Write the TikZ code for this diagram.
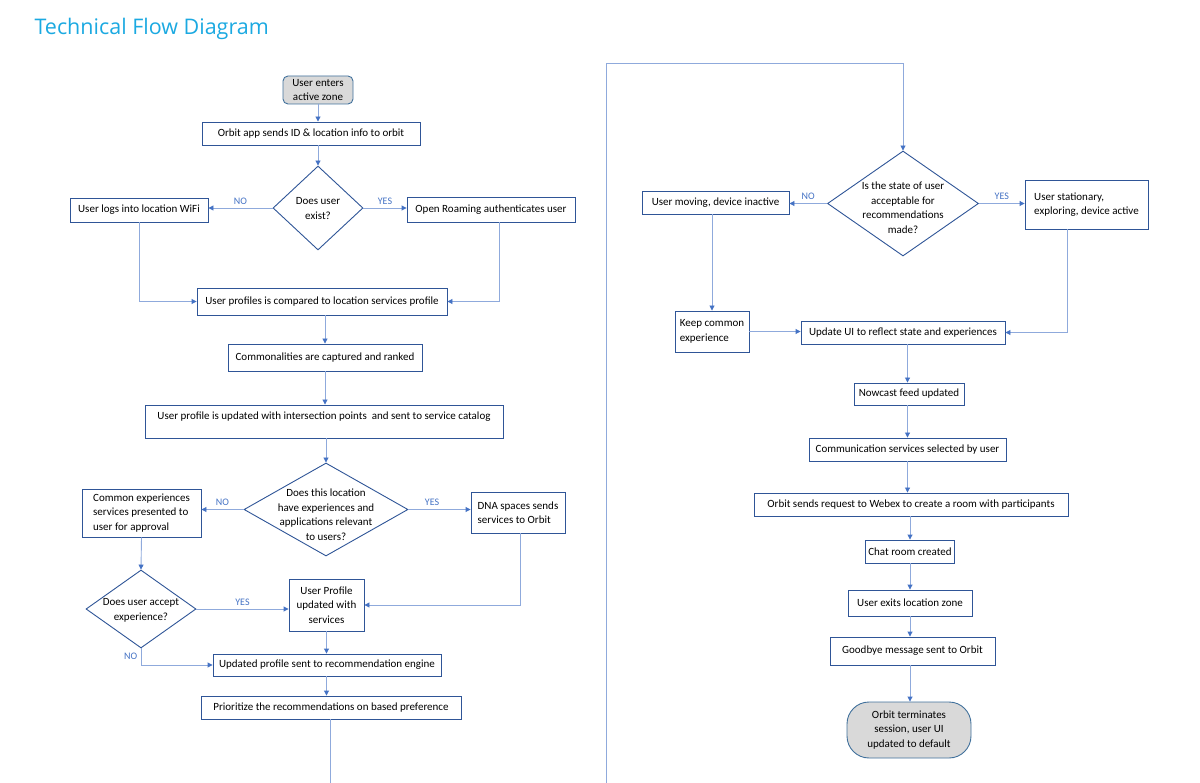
\documentclass[tikz,border=0pt]{standalone}
\usepackage{fontspec}
\setmainfont{Carlito}
\newfontfamily\titlefont{Open Sans}
\usepackage{tikz}
\usetikzlibrary{shapes.geometric}
\usetikzlibrary{arrows.meta}

\definecolor{boxblue}{HTML}{2F5597}
\definecolor{lineblue}{HTML}{8FAADC}
\definecolor{tipblue}{HTML}{4472C4}
\definecolor{titleblue}{HTML}{1BA9E1}
\definecolor{termgray}{HTML}{D9D9D9}
\definecolor{termedge}{HTML}{41719C}

\newcommand{\asklines}[2][4pt]{\smash{\makebox[0pt]{\raisebox{-#1}{\begin{tabular}{@{}c@{}}#2\end{tabular}}}}}

\begin{document}
\begin{tikzpicture}[x=1pt, y=-1pt,
		every node/.style={font=\fontsize{11}{14.5}\selectfont},
		box/.style={shape=rectangle, draw=boxblue, fill=white, line width=0.9pt, minimum height=23pt, inner sep=3pt},
		term/.style={shape=rectangle, draw=termedge, fill=termgray, line width=0.9pt, inner sep=0pt, align=center},
		decision/.style={shape=diamond, draw=boxblue, fill=white, line width=0.9pt, inner sep=0pt},
		flow/.style={draw=lineblue, line width=0.9pt, -{Triangle[length=5pt, width=5pt, color=tipblue]}},
		answer/.style={text=tipblue, font=\fontsize{10}{12}\selectfont},
]
\useasboundingbox (0,0) rectangle (1200,783);

\node[anchor=west, text=titleblue, font=\titlefont\fontsize{21.5}{24}\selectfont] (title) at (31,29) {Technical Flow Diagram};

% left column
\node[term, rounded corners=5pt, minimum width=70pt, minimum height=28pt] (start) at (318,90) {User enters\\active zone};
\node[box, minimum width=218pt] (send) at (311,133.5) {Orbit app sends ID \& location info to orbit};
\node[decision, minimum width=90pt, minimum height=84pt] (askuser) at (318,208) {\asklines{Does user\\exist?}};
\node[box, minimum width=138pt, minimum height=24pt] (wifi) at (139,210) {User logs into location WiFi};
\node[box, minimum width=168pt, minimum height=25pt] (roam) at (491,209.5) {Open Roaming authenticates user};
\node[box, minimum width=250pt, minimum height=27pt] (compare) at (322,301.5) {User profiles is compared to location services profile};
\node[box, minimum width=194pt, minimum height=27pt] (common) at (325,357.5) {Commonalities are captured and ranked};
\node[box, minimum width=358pt, text height=11pt, text depth=14pt, inner sep=4pt] (catalog) at (324,421.5) {User profile is updated with intersection points\ \ and sent to service catalog};
\node[decision, minimum width=164pt, minimum height=93pt] (asklocation) at (326,509.5) {\asklines[9pt]{Does this location\\have experiences and\\applications relevant\\to users?}};
\node[box, minimum width=119pt, minimum height=48pt, align=left] (approval) at (141.5,513) {Common experiences\\services presented to\\user for approval};
\node[box, minimum width=94pt, minimum height=41pt, align=left] (dna) at (518,512.5) {DNA spaces sends\\services to Orbit};
\node[decision, minimum width=110pt, minimum height=78pt] (accept) at (141,609) {\asklines{Does user accept\\experience?}};
\node[box, minimum width=75pt, minimum height=52pt, align=center] (services) at (326.5,605) {User Profile\\updated with\\services};
\node[box, minimum width=228pt, minimum height=22pt] (engine) at (327,665) {Updated profile sent to recommendation engine};
\node[box, minimum width=260pt] (prioritize) at (331,707.5) {Prioritize the recommendations on based preference};

% right column
\node[decision, minimum width=151pt, minimum height=105pt] (askstate) at (903,203.5) {\asklines[8pt]{Is the state of user\\acceptable for\\recommendations\\made?}};
\node[box, minimum width=147pt] (moving) at (715.5,202.5) {User moving, device inactive};
\node[box, minimum width=123pt, minimum height=49pt, align=left] (stationary) at (1086.5,204.5) {User stationary,\\exploring, device active};
\node[box, minimum width=74pt, minimum height=41pt, align=left] (keep) at (712,331.5) {Keep common\\experience};
\node[box, minimum width=204pt] (reflect) at (903,332.5) {Update UI to reflect state and experiences};
\node[box, minimum width=110pt, minimum height=22pt] (nowcast) at (909,394) {Nowcast feed updated};
\node[box, minimum width=197pt] (selected) at (907.5,449.5) {Communication services selected by user};
\node[box, minimum width=314pt] (webex) at (911,504.5) {Orbit sends request to Webex to create a room with participants};
\node[box, minimum width=88pt] (chat) at (910,551.5) {Chat room created};
\node[box, minimum width=124pt, minimum height=26pt] (exits) at (910,603) {User exits location zone};
\node[box, minimum width=165pt, minimum height=28pt] (goodbye) at (912.5,651) {Goodbye message sent to Orbit};
\node[term, rounded corners=22pt, minimum width=124pt, minimum height=56pt] (final) at (909,730) {Orbit terminates\\session, user UI\\updated to default};

\coordinate (leftend) at (330,783);
\coordinate (rightend) at (606,783);
\coordinate (topturn) at (606,63);

% connectors, left column
\draw[flow] (start.south) -- (start.south |- send.north);
\draw[flow] (start.south |- send.south) -- (askuser.north);
\draw[flow] (askuser.west) -- node[answer, above] (no1) {NO} (askuser.west -| wifi.east);
\draw[flow] (askuser.east) -- node[answer, above] (yes1) {YES} (askuser.east -| roam.west);
\draw[flow] (wifi.south) |- (compare.west);
\draw[flow] ([xshift=8pt]roam.south) |- (compare.east);
\draw[flow] (common.north |- compare.south) -- (common.north);
\draw[flow] (common.south) -- (common.south |- catalog.north);
\draw[flow] (asklocation.north |- catalog.south) -- (asklocation.north);
\draw[flow] (asklocation.west) -- node[answer, above] (no2) {NO} (asklocation.west -| approval.east);
\draw[flow] (asklocation.east) -- node[answer, above, pos=0.38] (yes2) {YES} (asklocation.east -| dna.west);
\draw[flow] (approval.south) -- (accept.north);
\draw[flow] (accept.east) -- node[answer, above] (yes3) {YES} (accept.east -| services.west);
\draw[flow] ([xshift=2pt]dna.south) |- (services.east);
\draw[flow] (accept.south) |- node[answer, pos=0.25, left] (no3) {NO} (engine.west);
\draw[flow] (services.south) -- (services.south |- engine.north);
\draw[flow] (services.south |- engine.south) -- (services.south |- prioritize.north);
\draw[draw=lineblue, line width=0.9pt] (prioritize.south -| leftend) -- (leftend);

% connectors, right column
\draw[flow] (rightend) -- (topturn) -| (askstate.north);
\draw[flow] (askstate.west) -- node[answer, above] (no4) {NO} (askstate.west -| moving.east);
\draw[flow] (askstate.east) -- node[answer, above] (yes4) {YES} (askstate.east -| stationary.west);
\draw[flow] (keep.north |- moving.south) -- (keep.north);
\draw[flow] (keep.east) -- (keep.east -| reflect.west);
\draw[flow] ([xshift=-19.5pt]stationary.south) |- (reflect.east);
\draw[flow] (reflect.south -| selected.north) -- (selected.north |- nowcast.north);
\draw[flow] (selected.north |- nowcast.south) -- (selected.north);
\draw[flow] (selected.south) -- (selected.south |- webex.north);
\draw[flow] (chat.north |- webex.south) -- (chat.north);
\draw[flow] (chat.south) -- (exits.north);
\draw[flow] (exits.south) -- (exits.south |- goodbye.north);
\draw[flow] (exits.south |- goodbye.south) -- (exits.south |- final.north);

\end{tikzpicture}
\end{document}
